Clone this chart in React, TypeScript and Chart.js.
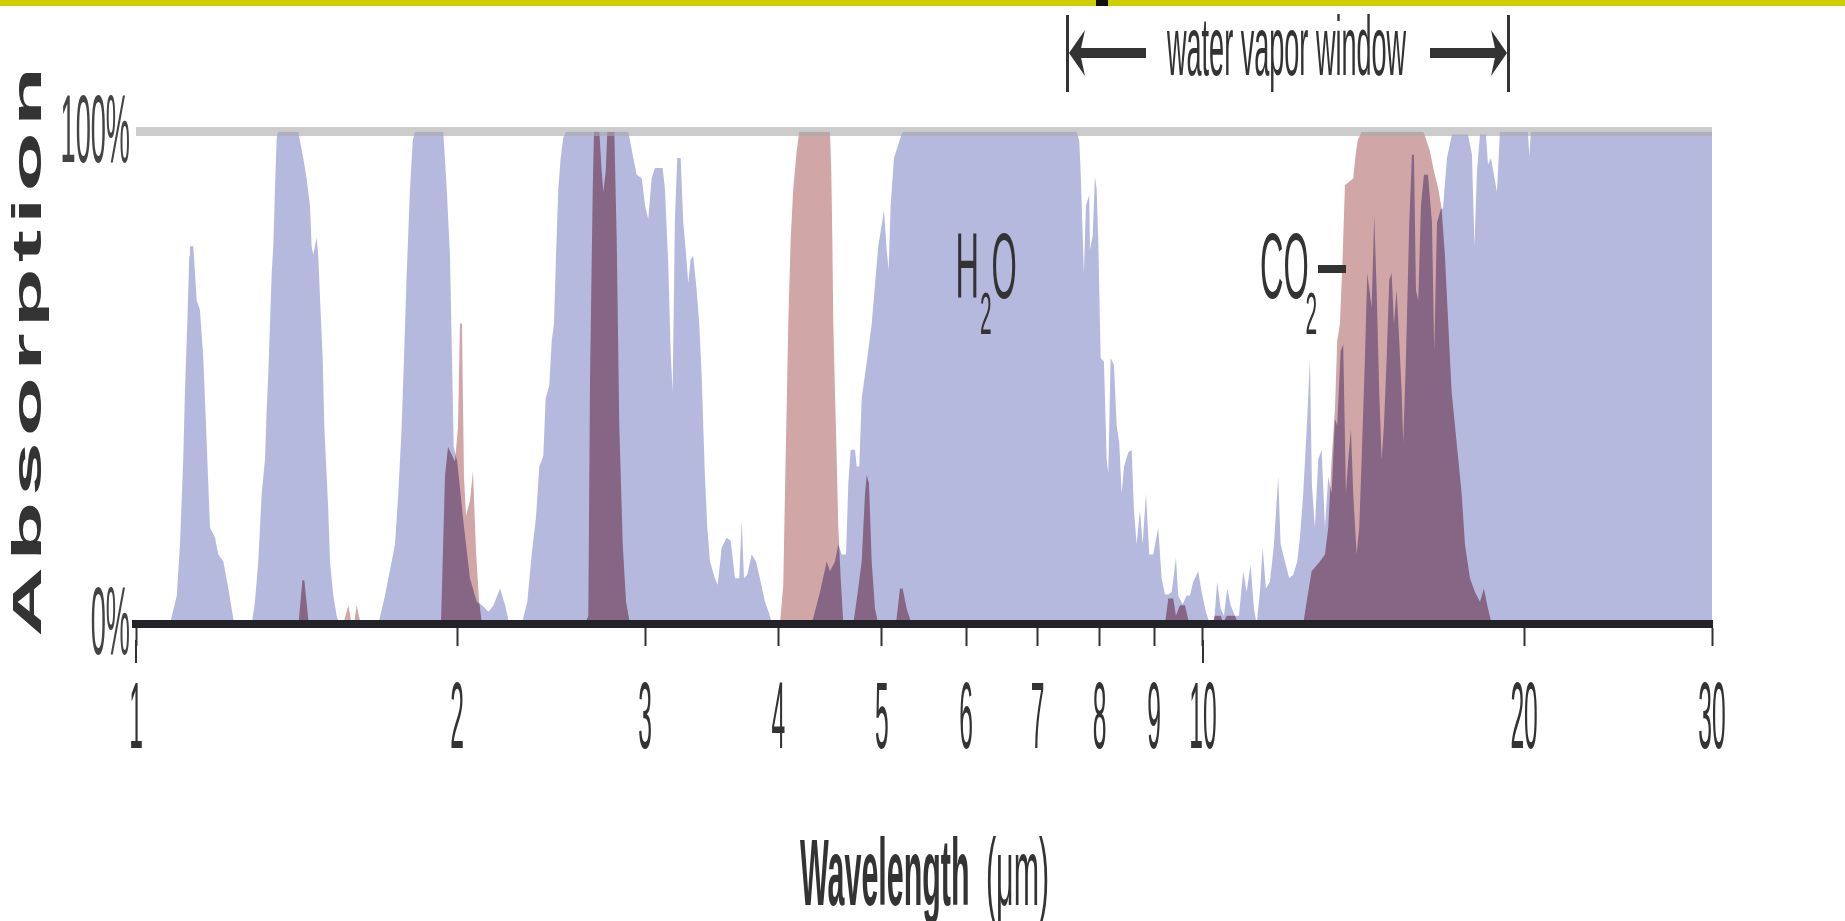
import React, { useEffect, useRef } from 'react';
import { Chart, registerables } from 'chart.js';

// ---- per-dataset canvas compositing (registered before Filler so it wraps the fill) ----
const compositePlugin = {
  id: 'areaComposite',
  beforeDatasetDraw(chart: any, args: any) {
    const ds = chart.data.datasets[args.index];
    chart.ctx.save();
    if (ds && ds.composite) chart.ctx.globalCompositeOperation = ds.composite;
  },
  afterDatasetDraw(chart: any) {
    chart.ctx.restore();
  },
};
Chart.register(compositePlugin);
Chart.register(...registerables);

// ---------------- data (wavelength in µm, absorption in %) ----------------
const h2oWavelength = [
  1.076, 1.092, 1.0996, 1.1073, 1.1114, 1.117, 1.1218, 1.1235, 1.1316, 1.14, 1.1481, 1.1563, 1.1631, 1.1664, 1.1732, 1.186, 1.1944, 1.2074, 1.2205, 1.2338, 1.2409,
  1.2836, 1.2928, 1.302, 1.3117, 1.321, 1.3259, 1.3304, 1.3353, 1.3402, 1.3449, 1.3498, 1.3548, 1.3595, 1.4193, 1.4245, 1.4346, 1.4452, 1.4556, 1.4609, 1.466, 1.4768, 1.482, 1.4874, 1.4961, 1.5013, 1.5091, 1.5143, 1.52, 1.5308, 1.5421, 1.5508,
  1.6871, 1.7115, 1.7489, 1.7614, 1.7744, 1.7832, 1.7936, 1.8064, 1.817, 1.8261, 1.9408, 1.9554, 1.9692, 1.985, 2.0, 2.03, 2.056, 2.086, 2.11, 2.14, 2.163, 2.194, 2.218, 2.238,
  2.2988, 2.3267, 2.3489, 2.3708, 2.3878, 2.4085, 2.4209, 2.4399, 2.4526, 2.4647, 2.4754, 2.4877, 2.5006, 2.5147, 2.5293, 2.8934, 2.9084, 2.9249, 2.9464, 2.9785,
  3.0, 3.0206, 3.0429, 3.0647, 3.1161, 3.1314, 3.1538, 3.1702, 3.1839, 3.1996, 3.2158, 3.2395, 3.2578, 3.2768, 3.2932, 3.31, 3.3286, 3.3533, 3.3723, 3.3897,
  3.4014, 3.414, 3.4311, 3.451, 3.4886, 3.5089, 3.5392, 3.5778, 3.6088, 3.6424, 3.6765, 3.6954, 3.7138, 3.7403, 3.776, 3.8112, 3.85, 3.8858, 3.9221, 3.945,
  4.298, 4.376, 4.44, 4.4712, 4.52, 4.5524, 4.586, 4.629, 4.6517, 4.6757, 4.7193, 4.7367, 4.7634, 4.788, 4.8463, 4.8925, 4.9624, 5.0238, 5.0532, 5.0751,
  5.097, 5.1334, 5.17, 5.2194, 5.2374, 7.6144, 7.6573, 7.6804, 7.707, 7.7353, 7.7687, 7.8245, 7.836, 7.882, 7.921, 7.95, 7.978, 8.019, 8.076, 8.124,
  8.152, 8.194, 8.253, 8.301, 8.348, 8.391, 8.433, 8.511, 8.574, 8.617, 8.667, 8.729, 8.78, 8.843, 8.906, 8.983, 9.08, 9.147, 9.213, 9.279,
  9.347, 9.434, 9.481, 9.571, 9.654, 9.723, 9.793, 9.899, 9.972, 10.065, 10.152, 10.24, 10.313, 10.39, 10.464, 10.538, 10.616, 10.715, 10.808, 10.909,
  10.989, 11.084, 11.164, 11.229, 11.309, 11.375, 11.456, 11.556, 11.656, 11.764, 11.825, 11.936, 12.047, 12.151, 12.257, 12.328, 12.416, 12.524, 12.597, 12.652,
  12.734, 12.825, 12.92, 13.012, 13.105, 13.202, 13.296, 13.362, 13.46, 13.536, 13.615, 13.683, 13.763, 13.831, 13.933, 14.012, 14.084, 14.185, 14.256, 14.392,
  14.473, 14.548, 14.63, 14.706, 14.779, 14.866, 14.949, 15.027, 15.102, 15.19, 15.275, 15.355, 15.408, 15.498, 15.609, 15.7, 15.768, 15.836, 15.915, 16.008,
  16.112, 16.252, 16.393, 16.474, 16.571, 16.714, 16.786, 16.932, 17.116, 17.717, 17.871, 17.967, 18.065, 18.182, 18.419, 18.499, 18.619, 18.861, 18.984, 20.162,
  20.228, 20.293, 30,
];
const h2oAbsorption = [
  0, 5.8, 16.2, 33.4, 47.1, 60.9, 74.7, 76.7, 76.7, 65.7, 63.7, 54, 40.3, 33.4, 19.6, 17.5, 14.1, 12.7, 7.2, 1, 0,
  0, 4.5, 12.7, 26.5, 33.4, 43.7, 50.6, 60.9, 71.2, 76.7, 88.4, 98.8, 100, 100, 98.1, 94.6, 90.5, 85, 76.7, 75, 78.5, 74.7, 66.4, 54, 40.3, 29.9, 23.1, 12.7, 5.8, 1.7, 0,
  0, 5.8, 16.2, 26.5, 40.3, 54, 71.2, 88.4, 98.1, 100, 100, 88.4, 74.7, 36, 33, 19.6, 9.3, 4.5, 3.8, 2.5, 3.8, 7.2, 3.8, 0,
  0, 4.5, 14.1, 21.7, 32, 34.1, 45.8, 48.5, 57.5, 60.9, 74.7, 88.4, 94.6, 98.8, 100, 100, 97.4, 94.6, 91.2, 90.5,
  85, 82.2, 90.5, 92.6, 92.6, 88.4, 73.3, 55.4, 47.1, 82.2, 94.6, 94.6, 81.5, 75.4, 69.2, 74, 74.7, 67.8, 60.9, 50.6,
  40.3, 29.9, 19.6, 12.7, 9.3, 7.9, 15.5, 17.5, 16.9, 9.3, 9.3, 21, 9.3, 10, 14.1, 12.7, 8.6, 4.5, 2.1, 0,
  0, 6.5, 12.7, 10.7, 12.7, 16.2, 14.1, 14.1, 28.6, 35.4, 35.4, 32, 32, 45.8, 54, 60.9, 76.7, 84, 76, 71.9,
  85, 94.6, 96.7, 99.5, 100, 100, 98.1, 91.9, 81.5, 71.2, 85, 87.1, 76, 78.8, 90.8, 88.4, 78.1, 54, 53.3, 33.4,
  30.6, 54, 52.6, 40.3, 36.8, 26.5, 32, 34.8, 35.4, 23.1, 16.2, 23.1, 16.2, 26.5, 14.1, 14.1, 19.6, 9.3, 6, 6,
  6.5, 13.4, 5.8, 4, 5.8, 5.8, 8.6, 10.7, 6.5, 2.4, 0, 0, 8.6, 3.1, 1.7, 7.2, 3.8, 1.7, 1.7, 10.7,
  6.5, 12, 3.1, 0, 6.5, 15.5, 7.2, 8.6, 16.2, 29.9, 16.2, 12.7, 9.3, 10, 12.7, 17.5, 26.5, 41.6, 54, 27.9,
  19.6, 33.4, 35.4, 19.6, 29.9, 26.5, 41.6, 40.3, 55.4, 56.8, 26.5, 33.4, 39.6, 26.5, 14.1, 19.6, 33.4, 54, 71.2, 64.3,
  82.9, 67.8, 47.1, 33.4, 40.3, 54, 69.9, 71.2, 60.9, 67.8, 57.5, 47.1, 36.8, 54, 81.5, 95.3, 95.3, 67.8, 65.7, 85,
  91.2, 91.2, 81.5, 55.4, 81.5, 84.3, 84.3, 94.6, 99.4, 99.4, 95.3, 76.7, 91.9, 99.4, 99.4, 93.3, 94.6, 87.7, 100, 100,
  95, 100, 100,
];

const co2Wavelength = [
  1.42, 1.432, 1.438, 1.452,
  1.5643, 1.5812, 1.5929, 1.6007, 1.6102, 1.6241,
  1.9312, 1.948, 1.9607, 1.9906, 2.0035, 2.0121, 2.0208, 2.0295, 2.0383, 2.0559, 2.0693, 2.0827, 2.0962, 2.1099,
  2.6353, 2.6542, 2.664, 2.6796, 2.6871, 2.718, 2.732, 2.7416, 2.7557, 2.7652, 2.8074, 2.822, 2.8378, 2.8589, 2.8793, 2.9042,
  4.0138, 4.0425, 4.0574, 4.0723, 4.0864, 4.1076, 4.1307, 4.1612, 4.1844, 4.4712, 4.484, 4.494, 4.5036, 4.52, 4.5368, 4.5524, 4.576, 4.602,
  4.7016, 4.7427, 4.788, 4.8224, 4.8401, 4.864, 4.8925, 4.9276, 4.9624,
  5.1556, 5.2003, 5.2307, 5.276, 5.3332,
  9.213, 9.279, 9.379, 9.434, 9.516, 9.619, 9.709,
  10.19, 10.262, 10.39, 10.448, 10.525, 10.715, 10.791,
  12.416, 12.508, 12.643, 12.872, 13.012, 13.105, 13.202, 13.296, 13.362, 13.44, 13.519, 13.586, 13.831, 13.903, 13.964, 14.084, 16.088, 16.147, 16.322, 16.439,
  16.617, 16.739, 16.859, 16.98, 17.105, 17.29, 17.478, 17.603, 17.794, 17.987, 18.182, 18.339, 18.471, 18.647,
];
const co2Absorption = [
  0, 8.9, 8.9, 0,
  0, 3.8, 0, 0, 3.8, 0,
  0, 30, 36, 33, 40, 61, 61, 30, 22, 25, 31, 15, 5, 0,
  0, 1.7, 49.9, 88.4, 100, 100, 91.9, 87.7, 91.9, 100, 100, 78.1, 40.3, 16.2, 4.5, 0,
  0, 7.9, 26.5, 43.7, 60.9, 78.1, 88.4, 96, 100, 100, 91.9, 78.1, 60.9, 47.1, 33.4, 19.6, 9.3, 0,
  0, 5.8, 12.7, 26.5, 30.3, 28.6, 12.7, 3.1, 0,
  0, 7.2, 7.2, 3.1, 0,
  0, 5.2, 5.2, 1.7, 3.8, 3.8, 0,
  0, 1.7, 1.7, 0.3, 1.7, 1.7, 0,
  0, 4.5, 10.7, 12.7, 14.1, 19.6, 33.4, 43.7, 57.5, 60.9, 74.7, 89.1, 90.5, 95.3, 98.1, 100, 100, 99.1, 96, 92.6,
  88.4, 84.3, 74.7, 60.9, 47.1, 36.8, 26.5, 16.2, 9.3, 6.5, 4.5, 7.2, 3.8, 0,
];

const xTickValues = [1, 2, 3, 4, 5, 6, 7, 8, 9, 10, 20, 30];
const xTickLabels = ['1', '2', '3', '4', '5', '6', '7', '8', '9', '10', '20', '30'];
const longTickValues = [1, 10];
const yTickValues = [0, 100];
const yTickLabels = ['0%', '100%'];

const BLUE = 'rgb(181,185,222)';
const PINK = 'rgb(208,166,166)';
const PURPLE = 'rgb(134,101,133)';
const INK = '#333333';
const FONT = '"Liberation Sans", Arial, sans-serif';

function squeezed(ctx: CanvasRenderingContext2D, text: string, x: number, y: number, sx: number, font: string, color: string, align: CanvasTextAlign) {
  ctx.save();
  ctx.translate(x, y);
  ctx.scale(sx, 1);
  ctx.font = font;
  ctx.fillStyle = color;
  ctx.textAlign = align;
  ctx.textBaseline = 'alphabetic';
  ctx.fillText(text, 0, 0);
  ctx.restore();
}

const figurePlugin = {
  id: 'figureText',
  afterDraw(chart: any) {
    const ctx: CanvasRenderingContext2D = chart.ctx;
    const xs = chart.scales.x;
    const ys = chart.scales.y;
    ctx.save();

    // top rule
    ctx.fillStyle = '#cfcf00';
    ctx.fillRect(0, 0, chart.width, 6);
    ctx.fillStyle = '#111111';
    ctx.fillRect(1096, 0, 12, 6);

    // longer tick marks at 1 and 10
    ctx.strokeStyle = INK;
    ctx.lineWidth = 2;
    longTickValues.forEach((v) => {
      const x = Math.round(xs.getPixelForValue(v));
      ctx.beginPath();
      ctx.moveTo(x, 640);
      ctx.lineTo(x, 663);
      ctx.stroke();
    });

    // tick labels
    xTickValues.forEach((v, i) => {
      squeezed(ctx, xTickLabels[i], xs.getPixelForValue(v), 748, 0.26, `95px ${FONT}`, INK, 'center');
    });
    yTickValues.forEach((v, i) => {
      squeezed(ctx, yTickLabels[i], 130, ys.getPixelForValue(v) + 30, 0.28, `97px ${FONT}`, '#444444', 'right');
    });

    // x axis title
    const cx = (xs.left + xs.right) / 2;
    squeezed(ctx, 'Wavelength', cx - 124, 905, 0.32, `bold 95px ${FONT}`, INK, 'left');
    squeezed(ctx, '(μm)', cx + 62, 905, 0.32, `95px ${FONT}`, INK, 'left');

    // y axis title (rotated, spaced)
    ctx.save();
    ctx.translate(41, 352);
    ctx.rotate(-Math.PI / 2);
    ctx.font = `bold 100px ${FONT}`;
    (ctx as any).letterSpacing = '6px';
    const w = ctx.measureText('Absorption').width - 6;
    const k = 570 / w;
    ctx.scale(k, 0.405);
    ctx.fillStyle = INK;
    ctx.textAlign = 'left';
    ctx.textBaseline = 'alphabetic';
    ctx.fillText('Absorption', -285 / k, 0);
    ctx.restore();

    // water vapor window annotation
    ctx.fillStyle = INK;
    ctx.fillRect(1066, 15, 3, 77);
    ctx.fillRect(1507, 15, 3, 77);
    ctx.fillRect(1076, 48, 70, 10);
    ctx.fillRect(1430, 48, 68, 10);
    ctx.beginPath();
    ctx.moveTo(1069, 53);
    ctx.lineTo(1085, 30);
    ctx.lineTo(1080, 53);
    ctx.lineTo(1085, 76);
    ctx.closePath();
    ctx.fill();
    ctx.beginPath();
    ctx.moveTo(1507, 53);
    ctx.lineTo(1491, 30);
    ctx.lineTo(1496, 53);
    ctx.lineTo(1491, 76);
    ctx.closePath();
    ctx.fill();
    squeezed(ctx, 'water vapor window', 1167, 75, 0.326, `83px ${FONT}`, INK, 'left');

    // gas labels
    squeezed(ctx, 'H', 955.5, 298, 0.35, `93px ${FONT}`, INK, 'left');
    squeezed(ctx, '2', 980, 334, 0.35, `60px ${FONT}`, INK, 'left');
    squeezed(ctx, 'O', 991.5, 298, 0.35, `93px ${FONT}`, INK, 'left');
    squeezed(ctx, 'CO', 1260, 298, 0.35, `93px ${FONT}`, INK, 'left');
    squeezed(ctx, '2', 1305.5, 334, 0.35, `60px ${FONT}`, INK, 'left');
    ctx.fillStyle = INK;
    ctx.fillRect(1318, 265, 28, 8);

    ctx.restore();
  },
};

export default function App() {
  const canvasRef = useRef<HTMLCanvasElement | null>(null);

  useEffect(() => {
    if (!canvasRef.current) return;
    const h2oPoints = h2oWavelength.map((x, i) => ({ x, y: h2oAbsorption[i] }));
    const co2Points = co2Wavelength.map((x, i) => ({ x, y: co2Absorption[i] }));
    const areaBase = { fill: 'origin', borderWidth: 0, pointRadius: 0, pointHoverRadius: 0, tension: 0 };

    const chart = new Chart(canvasRef.current, {
      type: 'line',
      data: {
        datasets: [
          { ...areaBase, label: 'CO2', data: co2Points, backgroundColor: PINK, borderColor: PINK, composite: 'destination-over' } as any,
          { ...areaBase, label: 'CO2 + H2O overlap', data: co2Points, backgroundColor: PURPLE, borderColor: PURPLE, composite: 'source-atop' } as any,
          { ...areaBase, label: 'H2O', data: h2oPoints, backgroundColor: BLUE, borderColor: BLUE } as any,
        ],
      },
      options: {
        animation: false,
        responsive: true,
        maintainAspectRatio: false,
        devicePixelRatio: 1,
        events: [],
        layout: { autoPadding: false, padding: { left: 136, right: 133, top: 131.5, bottom: 0 } },
        plugins: { legend: { display: false }, tooltip: { enabled: false }, title: { display: false } },
        scales: {
          x: {
            type: 'logarithmic',
            min: 1,
            max: 30,
            afterBuildTicks: (s: any) => { s.ticks = xTickValues.map((v) => ({ value: v })); },
            afterFit: (s: any) => { s.height = 297; },
            ticks: { display: false },
            grid: { display: true, drawOnChartArea: false, drawTicks: true, tickLength: 22, tickWidth: 2, tickColor: INK, color: INK },
            border: { display: true, color: '#222228', width: 8, z: 1 },
          },
          y: {
            type: 'linear',
            min: 0,
            max: 100,
            afterBuildTicks: (s: any) => { s.ticks = [{ value: 100 }]; },
            afterFit: (s: any) => { s.width = 0; },
            ticks: { display: false },
            grid: { color: 'rgba(170,170,170,0.6)', lineWidth: 9, drawTicks: false, z: 1 },
            border: { display: false },
          },
        },
      } as any,
      plugins: [figurePlugin],
    });
    return () => chart.destroy();
  }, []);

  return (
    <div style={{ position: 'fixed', left: 0, top: 0, width: 1845, height: 921, background: '#ffffff' }}>
      <canvas ref={canvasRef} />
    </div>
  );
}
